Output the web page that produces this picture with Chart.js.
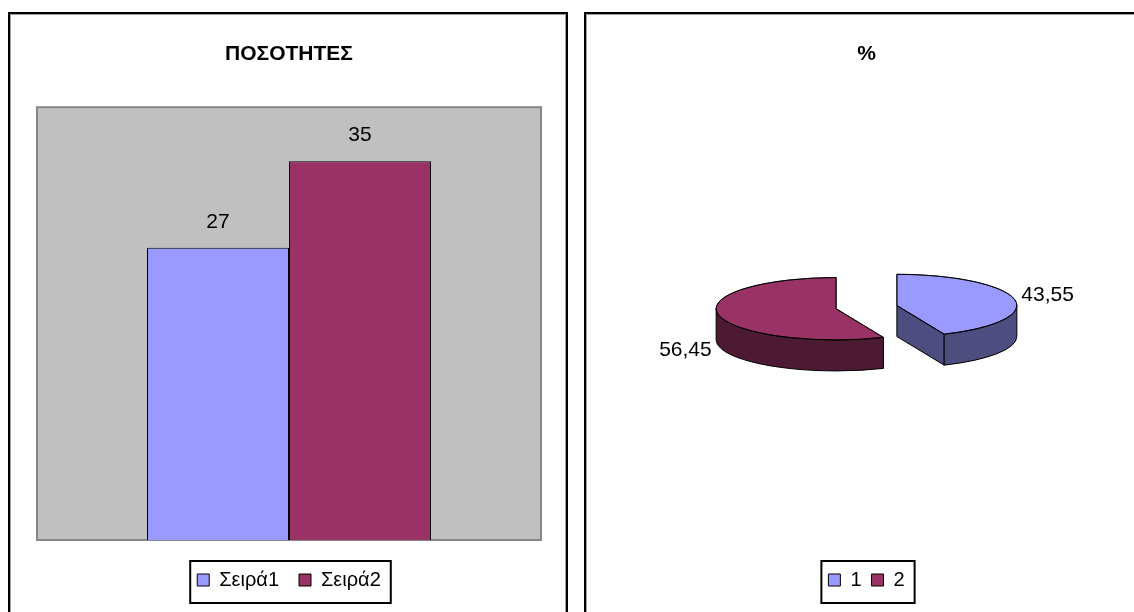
<!DOCTYPE html>
<html>
<head>
<meta charset="utf-8">
<script src="https://cdn.jsdelivr.net/npm/chart.js@4.4.1/dist/chart.umd.min.js"></script>
<style>
    html, body { margin: 0; padding: 0; background: #fff; overflow: hidden; }
    body { width: 1134px; height: 612px; position: relative; }
    .panel {
        position: absolute; top: 12px; width: 556px; height: 620px;
        border: 2px solid #000; box-shadow: inset 0 0 0 1px #a0a0a0;
    }
    .panel canvas { position: absolute; left: 0; top: 0; }
    #qtyPanel { left: 8px; }
    #pctPanel { left: 584px; }
</style>
</head>
<body>
<div class="panel" id="qtyPanel"><canvas id="qtyChart" width="556" height="598"></canvas></div>
<div class="panel" id="pctPanel"><canvas id="pctChart" width="556" height="598"></canvas></div>

<script>
// ==================== ΠΟΣΟΤΗΤΕΣ / % ====================

const seriesNames = ['Σειρά1', 'Σειρά2'];
const quantities = [27, 35];
const qtyAxisMax = 40;

const sliceNames = ['1', '2'];
const sharePercents = [43.55, 56.45];

const BLUE = '#9999FF', PLUM = '#993366';
const sideColors = ['#4D4D80', '#4D1A33'];

// 3D pie look
const TILT = 0.26, DEPTH = 31, EXPLODE = 31;

const FONT = '"Liberation Sans", Arial, sans-serif';
Chart.defaults.font.family = FONT;
Chart.defaults.color = '#000';

function titleBlock(text) {
    return {
        display: true, text,
        font: { size: 21, weight: 'bold', lineHeight: 1.2 },
        padding: { top: 28, bottom: 40 }
    };
}

// titleGap is an empty legend title, used only to push the items down
function legendBlock(gap, titleGap) {
    return {
        position: 'bottom',
        title: { display: true, text: '', font: { size: titleGap, lineHeight: 1 }, padding: 0 },
        labels: { boxWidth: 12, boxHeight: 12, padding: gap, font: { size: 20 }, color: '#000' }
    };
}

// boxed legend
const legendFrame = {
    id: 'legendFrame',
    afterDraw(chart) {
        const boxes = chart.legend && chart.legend.legendHitBoxes;
        if (!boxes || !boxes.length) return;
        const first = boxes[0], last = boxes[boxes.length - 1];
        const left = first.left - 7;
        const right = last.left + last.width + 10;
        const ctx = chart.ctx;
        ctx.save();
        ctx.strokeStyle = '#000';
        ctx.lineWidth = 2;
        ctx.strokeRect(left, first.top - 9, right - left, 42);
        ctx.restore();
    }
};

const plotBackground = {
    id: 'plotBackground',
    beforeDatasetsDraw(chart) {
        const { ctx, chartArea: a } = chart;
        ctx.save();
        ctx.fillStyle = '#C0C0C0';
        ctx.fillRect(a.left, a.top, a.width, a.height);
        ctx.strokeStyle = '#878787';
        ctx.lineWidth = 2;
        ctx.strokeRect(a.left, a.top, a.width, a.height);
        ctx.restore();
    }
};

const barValues = {
    id: 'barValues',
    afterDatasetsDraw(chart) {
        const ctx = chart.ctx;
        ctx.save();
        ctx.font = '21px ' + FONT;
        ctx.fillStyle = '#000';
        ctx.textAlign = 'center';
        ctx.textBaseline = 'middle';
        chart.data.datasets.forEach((ds, i) => {
            chart.getDatasetMeta(i).data.forEach((bar, j) => {
                ctx.fillText(String(ds.data[j]), bar.x, bar.y - 26);
            });
        });
        ctx.restore();
    }
};

new Chart(document.getElementById('qtyChart'), {
    type: 'bar',
    data: {
        labels: [''],
        datasets: seriesNames.map((name, i) => ({
            label: name,
            data: [quantities[i]],
            backgroundColor: [BLUE, PLUM][i],
            borderColor: '#000',
            borderWidth: 1,
            categoryPercentage: 0.5635,
            barPercentage: 1
        }))
    },
    options: {
        responsive: false,
        animation: false,
        events: [],
        layout: { padding: { left: 27, right: 25, top: 0, bottom: 12 } },
        plugins: {
            title: titleBlock('ΠΟΣΟΤΗΤΕΣ'),
            legend: legendBlock(20, 10),
            tooltip: { enabled: false }
        },
        scales: {
            x: { display: false },
            y: { display: false, min: 0, max: qtyAxisMax }
        }
    },
    plugins: [plotBackground, barValues, legendFrame]
});

// ---------- exploded 3D pie ----------

// where a slice sits once pulled out and tipped back
function sliceGeometry(arc) {
    const mid = (arc.startAngle + arc.endAngle) / 2;
    return {
        mid,
        r: arc.outerRadius,
        x: arc.x + Math.cos(mid) * EXPLODE,
        y: arc.y - DEPTH / 2 + Math.sin(mid) * EXPLODE * TILT,
        start: arc.startAngle,
        end: arc.endAngle
    };
}

function rimPoint(g, a) {
    return [g.x + g.r * Math.cos(a), g.y + g.r * TILT * Math.sin(a)];
}

class Pie3DController extends Chart.PieController {
    draw() {
        const ctx = this.chart.ctx;
        const arcs = this.getMeta().data;
        ctx.save();
        ctx.lineWidth = 1;
        ctx.strokeStyle = '#000';
        ctx.lineJoin = 'round';

        arcs.forEach((arc, i) => {
            const g = sliceGeometry(arc);
            ctx.fillStyle = sideColors[i];

            // cut faces that turn towards the viewer
            [[g.start, Math.cos(g.start) < -1e-6], [g.end, Math.cos(g.end) > 1e-6]].forEach(([a, show]) => {
                if (!show) return;
                const [px, py] = rimPoint(g, a);
                ctx.beginPath();
                ctx.moveTo(g.x, g.y);
                ctx.lineTo(px, py);
                ctx.lineTo(px, py + DEPTH);
                ctx.lineTo(g.x, g.y + DEPTH);
                ctx.closePath();
                ctx.fill();
                ctx.stroke();
            });

            // outer wall, only the near half of the rim
            for (let k = -1; k <= 1; k++) {
                const lo = Math.max(g.start, 2 * Math.PI * k);
                const hi = Math.min(g.end, Math.PI + 2 * Math.PI * k);
                if (hi - lo < 1e-6) continue;
                const [hx, hy] = rimPoint(g, hi);
                ctx.beginPath();
                ctx.ellipse(g.x, g.y, g.r, g.r * TILT, 0, lo, hi);
                ctx.lineTo(hx, hy + DEPTH);
                ctx.ellipse(g.x, g.y + DEPTH, g.r, g.r * TILT, 0, hi, lo, true);
                ctx.closePath();
                ctx.fill();
                ctx.stroke();
            }

            // top face: the arc element itself, squashed
            ctx.save();
            ctx.translate(g.x, g.y);
            ctx.scale(1, TILT);
            ctx.translate(-arc.x, -arc.y);
            arc.draw(ctx);
            ctx.restore();

            // outline again without the squash so lines keep their width
            ctx.beginPath();
            ctx.moveTo(g.x, g.y);
            ctx.ellipse(g.x, g.y, g.r, g.r * TILT, 0, g.start, g.end);
            ctx.closePath();
            ctx.stroke();
        });
        ctx.restore();
    }
}
Pie3DController.id = 'pie3d';
Chart.register(Pie3DController);

const sliceValues = {
    id: 'sliceValues',
    afterDatasetsDraw(chart) {
        const ctx = chart.ctx;
        const values = chart.data.datasets[0].data;
        ctx.save();
        ctx.font = '21px ' + FONT;
        ctx.fillStyle = '#000';
        ctx.textBaseline = 'middle';
        chart.getDatasetMeta(0).data.forEach((arc, i) => {
            const g = sliceGeometry(arc);
            const c = Math.cos(g.mid), s = Math.sin(g.mid);
            const x = g.x + (g.r + 7) * c;
            const y = g.y + g.r * TILT * s + (s > 0 ? DEPTH + 4 : -4);
            ctx.textAlign = c >= 0 ? 'left' : 'right';
            ctx.fillText(String(values[i]).replace('.', ','), x, y);
        });
        ctx.restore();
    }
};

new Chart(document.getElementById('pctChart'), {
    type: 'pie3d',
    data: {
        labels: sliceNames,
        datasets: [{
            data: sharePercents,
            backgroundColor: [BLUE, PLUM],
            borderColor: '#000',
            borderWidth: 1,
            radius: 120
        }]
    },
    options: {
        responsive: false,
        animation: false,
        events: [],
        layout: { padding: { left: 30, right: 25, top: 0, bottom: 12 } },
        plugins: {
            title: titleBlock('%'),
            legend: legendBlock(10, 22),
            tooltip: { enabled: false }
        }
    },
    plugins: [sliceValues, legendFrame]
});
</script>
</body>
</html>
